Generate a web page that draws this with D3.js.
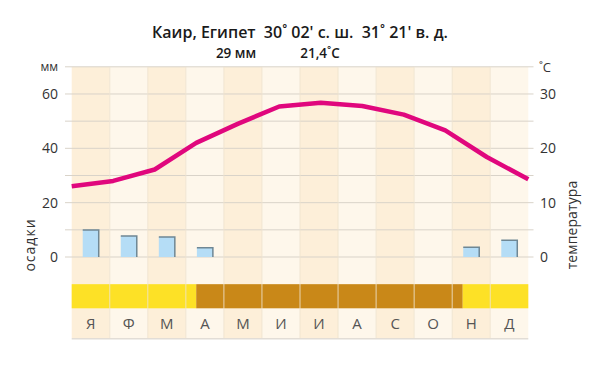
<!DOCTYPE html>
<html><head><meta charset="utf-8">
<script src="https://cdn.jsdelivr.net/npm/d3@7"></script>
<style>
html,body{margin:0;padding:0;background:#fff;}
svg{display:block;font-family:"Open Sans","Noto Sans",sans-serif;}
</style></head>
<body><svg id="c" width="600" height="368"></svg>
<script>
const months = ["Я","Ф","М","А","М","И","И","А","С","О","Н","Д"];
const precip = [9.9, 7.7, 7.4, 3.4, 0, 0, 0, 0, 0, 0, 3.6, 6.2];
const temps = [13.0, 14.0, 16.1, 21.0, 24.5, 27.7, 28.4, 27.8, 26.2, 23.3, 18.4, 14.3];
const precipTicks = [0, 20, 40, 60];
const tempTicks = [0, 10, 20, 30];
const gridValues = [0, 10, 20, 30, 40, 50, 60, 70];
const seasons = [
  {from: 0, to: 3, kind: "wet"},
  {from: 3, to: 9.42, kind: "dry"},
  {from: 9.42, to: 11, kind: "wet"}
];
const titleText = "Каир, Египет  30˚ 02' с. ш.  31˚ 21' в. д.";
const totalPrecip = "29 мм";
const meanTemp = "21,4˚C";

const svg = d3.select("#c");
const L = 71.7, R = 528.3;
const x = d3.scaleBand().domain(d3.range(12)).range([L, R]).padding(0);
const xl = d3.scaleLinear().domain([0, 11]).range([L, R]);
const yP = d3.scaleLinear().domain([0, 70]).range([257, 66.8]);
const yT = d3.scaleLinear().domain([0, 35]).range([257, 66.8]);
const bandTop = yP(-10), bandBot = 308.3, rowBot = 338;

// shadow under chart
svg.append("rect").attr("x", L).attr("y", rowBot).attr("width", R - L).attr("height", 1.5).attr("fill", "#e2ddd6");

// column backgrounds
svg.append("g").selectAll("rect").data(months).join("rect")
  .attr("x", (d, i) => x(i)).attr("y", yP(70))
  .attr("width", x.bandwidth()).attr("height", rowBot - yP(70))
  .attr("fill", (d, i) => i % 2 === 0 ? "#fdefd9" : "#fef7eb");

// horizontal grid
svg.append("g").selectAll("line").data(gridValues).join("line")
  .attr("x1", 65).attr("x2", 533.5)
  .attr("y1", d => yP(d)).attr("y2", d => yP(d))
  .attr("stroke", "#d9d3c9").attr("stroke-width", 1);

// season band
svg.append("g").selectAll("rect").data(seasons).join("rect")
  .attr("x", d => xl(d.from)).attr("width", d => xl(d.to) - xl(d.from))
  .attr("y", bandTop).attr("height", bandBot - bandTop)
  .attr("fill", d => d.kind === "dry" ? "#c98818" : "#fde126");

// vertical column separators
svg.append("g").selectAll("line").data(d3.range(1, 12)).join("line")
  .attr("x1", d => x(d)).attr("x2", d => x(d))
  .attr("y1", yP(70)).attr("y2", rowBot)
  .attr("stroke", "#efe3cf").attr("stroke-opacity", 0.85).attr("stroke-width", 1);

// month labels
svg.append("g").selectAll("text").data(months).join("text")
  .attr("x", (d, i) => x(i) + x.bandwidth() / 2).attr("y", 329)
  .attr("text-anchor", "middle").attr("font-size", 15).attr("fill", "#555")
  .text(d => d);

// precipitation bars
const bw = 16;
const bars = svg.append("g").selectAll("g").data(precip.map((v, i) => ({v, i})).filter(d => d.v > 0)).join("g");
bars.append("rect")
  .attr("x", d => x(d.i) + x.bandwidth() / 2 - bw / 2).attr("y", d => yP(d.v))
  .attr("width", bw).attr("height", d => yP(0) - yP(d.v))
  .attr("fill", "#b5ddf6");
bars.append("path")
  .attr("d", d => {
    const x0 = x(d.i) + x.bandwidth() / 2 - bw / 2, x1 = x0 + bw;
    return `M${x0},${yP(d.v)}H${x1}V${yP(0)}`;
  })
  .attr("fill", "none").attr("stroke", "#6f8794").attr("stroke-width", 1.5);

// temperature line
svg.append("path").datum(temps)
  .attr("d", d3.line().x((d, i) => xl(i)).y(d => yT(d)))
  .attr("fill", "none").attr("stroke", "#e0077d").attr("stroke-width", 4.5)
  .attr("stroke-linejoin", "round");

// axes
const ax = svg.append("g").attr("transform", `translate(64,0)`)
  .call(d3.axisLeft(yP).tickValues(precipTicks).tickSize(0).tickPadding(6));
const ay = svg.append("g").attr("transform", `translate(534,0)`)
  .call(d3.axisRight(yT).tickValues(tempTicks).tickSize(0).tickPadding(6));
[ax, ay].forEach(a => {
  a.select(".domain").remove();
  a.selectAll("text").attr("font-size", 14).attr("fill", "#333")
    .attr("font-family", "'Open Sans','Noto Sans',sans-serif");
});

// unit labels
svg.append("text").attr("x", 58).attr("y", 71).attr("text-anchor", "end")
  .attr("font-size", 12).attr("fill", "#333").text("мм");
svg.append("text").attr("x", 539).attr("y", 72)
  .attr("font-size", 13).attr("fill", "#333").text("˚C");

// axis titles
svg.append("text").attr("transform", "translate(35,245) rotate(-90)")
  .attr("text-anchor", "middle").attr("font-size", 14).attr("fill", "#333")
  .attr("letter-spacing", 1).text("осадки");
svg.append("text").attr("transform", "translate(577,225) rotate(-90)")
  .attr("text-anchor", "middle").attr("font-size", 14).attr("fill", "#333")
  .attr("letter-spacing", 0.1).text("температура");

// title
svg.append("text").attr("x", 300).attr("y", 38).attr("text-anchor", "middle")
  .attr("font-size", 16).attr("font-weight", 600).attr("fill", "#1a1a1a")
  .attr("xml:space", "preserve").style("white-space", "pre").text(titleText);
svg.append("text").attr("x", 236).attr("y", 58).attr("text-anchor", "middle")
  .attr("font-size", 13.5).attr("font-weight", 600).attr("fill", "#1a1a1a").text(totalPrecip);
svg.append("text").attr("x", 320).attr("y", 58).attr("text-anchor", "middle")
  .attr("font-size", 13.5).attr("font-weight", 600).attr("fill", "#1a1a1a").text(meanTemp);
</script></body></html>
